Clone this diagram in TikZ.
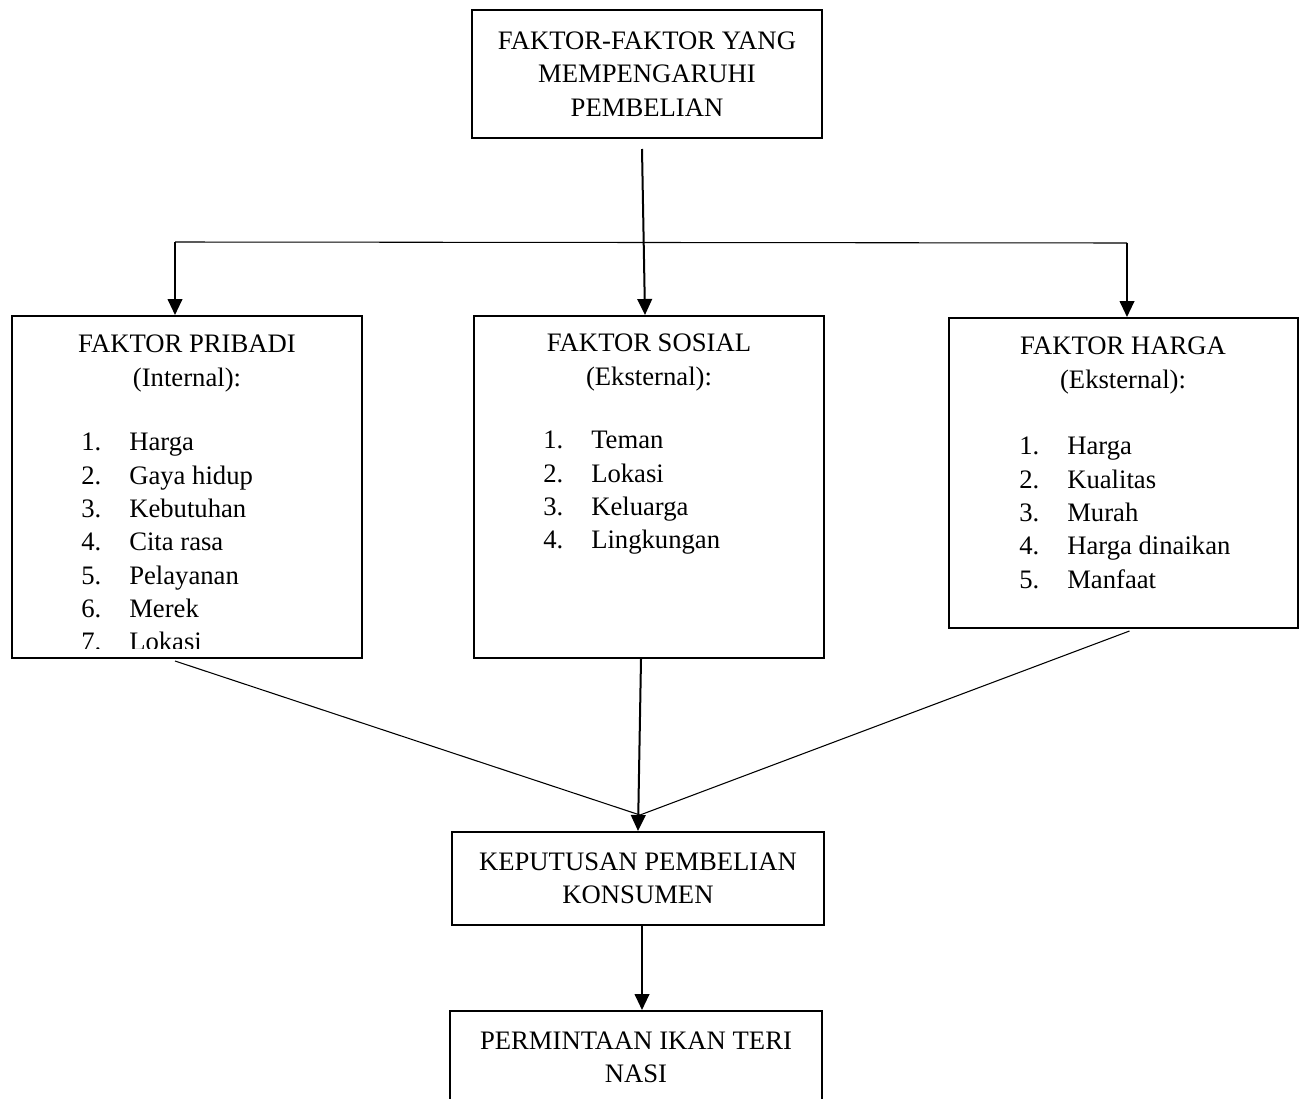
\documentclass[tikz,border=0pt]{standalone}
\usepackage{fontspec}
\setmainfont{Liberation Serif}
\usetikzlibrary{arrows.meta,positioning,calc}
\newcommand{\fitem}[2]{\makebox[36pt][l]{#1}#2}

\begin{document}
\begin{tikzpicture}[x=0.75pt,y=-0.75pt,>={Triangle[width=11pt,length=12pt]},
    font=\fontsize{20}{25}\selectfont,
    box/.style={draw,line width=1.5pt,inner sep=0pt,align=center},
    judul/.style={inner sep=0pt,align=center,anchor=north},
    daftar/.style={inner sep=0pt,align=left,anchor=north west},
    link/.style={line width=0.8pt},
    arr/.style={->,line width=1.5pt}]

\useasboundingbox (0,0) rectangle (1306,1099);

% kotak utama
\node[box,minimum width=262.5pt,minimum height=96pt] (top) at (647,74)
    {FAKTOR-FAKTOR YANG\\MEMPENGARUHI\\PEMBELIAN};
\node[box,minimum width=262.5pt,minimum height=256.5pt] (pribadi) at (187,487) {};
\node[box,minimum width=262.5pt,minimum height=256.5pt] (sosial) at (649,487) {};
\node[box,minimum width=261.75pt,minimum height=232.5pt] (harga) at (1123.5,473) {};
\node[box,minimum width=279pt,minimum height=69.75pt] (keputusan) at (638,878.5)
    {KEPUTUSAN PEMBELIAN\\KONSUMEN};
\node[box,minimum width=279pt,minimum height=69pt,anchor=north] (permintaan) at (636,1010)
    {PERMINTAAN IKAN TERI\\NASI};

% isi kotak faktor
\node[judul] (pribadiJudul) at (187,335) {FAKTOR PRIBADI\\(Internal):};
\begin{scope}
    \clip (pribadi.north west) rectangle ($(pribadi.south east)+(0,-11)$);
    \node[daftar] (pribadiList) at (81,433)
        {\fitem{1.}{Harga}\\\fitem{2.}{Gaya hidup}\\\fitem{3.}{Kebutuhan}\\
         \fitem{4.}{Cita rasa}\\\fitem{5.}{Pelayanan}\\\fitem{6.}{Merek}\\\fitem{7.}{Lokasi}};
\end{scope}

\node[judul] (sosialJudul) at (649,334) {FAKTOR SOSIAL\\(Eksternal):};
\node[daftar] (sosialList) at (543,431)
    {\fitem{1.}{Teman}\\\fitem{2.}{Lokasi}\\\fitem{3.}{Keluarga}\\\fitem{4.}{Lingkungan}};

\node[judul] (hargaJudul) at (1123,337) {FAKTOR HARGA\\(Eksternal):};
\node[daftar] (hargaList) at (1019,437)
    {\fitem{1.}{Harga}\\\fitem{2.}{Kualitas}\\\fitem{3.}{Murah}\\
     \fitem{4.}{Harga dinaikan}\\\fitem{5.}{Manfaat}};

% garis penghubung
\coordinate (splitL) at (175,242);
\coordinate (splitR) at (1127,243);
\coordinate (meet) at (640,815);

\draw[arr] ($(top.south)+(-5,10)$) -- ($(sosial.north)+(-4,0)$);
\draw[link] (splitL) -- (splitR);
\draw[arr] (splitL) -- (splitL |- pribadi.north);
\draw[arr] (splitR) -- (splitR |- harga.north);

\draw[link] ($(pribadi.south)+(-12,2)$) -- (meet);
\draw[link] ($(harga.south)+(6,2)$) -- (meet);
\draw[arr] ($(sosial.south)+(-8,0)$) -- (keputusan.north);
\draw[arr] ($(keputusan.south)+(4,0)$) -- ($(permintaan.north)+(6,0)$);
\end{tikzpicture}
\end{document}
